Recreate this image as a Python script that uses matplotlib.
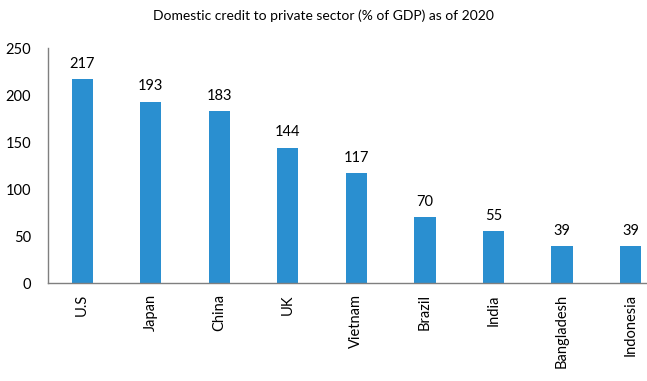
import matplotlib
matplotlib.use("Agg")
import matplotlib.pyplot as plt

countries = ["U.S", "Japan", "China", "UK", "Vietnam", "Brazil", "India", "Bangladesh", "Indonesia"]
credit = [217, 193, 183, 144, 117, 70, 55, 39, 39]

plt.rcParams['font.family'] = ['Lato', 'DejaVu Sans']

fig = plt.figure(figsize=(6.47, 3.81), dpi=100)
ax = fig.add_axes([0.074, 0.257, 0.926, 0.617])

x = range(len(countries))
bars = ax.bar(x, credit, width=0.31, color="#2a8fd0")
for xi, v in zip(x, credit):
    ax.text(xi, v + 9, str(v), ha="center", va="bottom", fontsize=10.5)

ax.set_xlim(-0.5, 8.24)
ax.set_ylim(0, 250)
ax.set_yticks([0, 50, 100, 150, 200, 250])
ax.set_xticks(list(x))
ax.set_xticklabels(countries, rotation=90, fontsize=10.5)
ax.tick_params(axis="y", labelsize=10.5, length=0, pad=12)
ax.tick_params(axis="x", length=0, pad=8)
for s in ["top", "right"]:
    ax.spines[s].set_visible(False)
for s in ["left", "bottom"]:
    ax.spines[s].set_color("#7f7f7f")
    ax.spines[s].set_linewidth(1)

fig.suptitle("Domestic credit to private sector (% of GDP) as of 2020", y=0.975, fontsize=10)
fig.savefig("out.png", dpi=100)
